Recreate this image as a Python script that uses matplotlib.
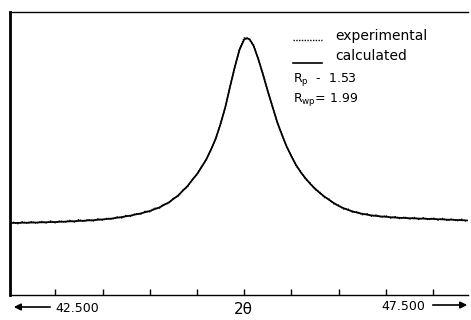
import numpy as np
import matplotlib
matplotlib.use("Agg")
import matplotlib.pyplot as plt

# step scan: start angle, step width (deg 2theta)
scan_start = 42.55
scan_step = 0.05
exp_counts = [
    72.8, 71.4, 73.1, 71.9, 73.3, 71.8, 73.6, 72.1, 73.9, 72.3,
    74.1, 72.7, 74.6, 73.0, 75.3, 73.6, 75.4, 74.0, 76.1, 74.9,
    76.7, 75.8, 78.0, 77.1, 79.5, 78.8, 81.4, 80.7, 83.6, 83.3,
    86.6, 86.8, 90.7, 91.8, 96.7, 98.9, 104.8, 108.3, 115.5, 120.4,
    128.8, 135.4, 146.2, 156.3, 171.8, 187.3, 208.9, 227.2, 245.8, 257.0,
    255.8, 249.8, 235.2, 220.9, 203.3, 188.8, 172.3, 160.8, 147.8, 139.3,
    129.3, 123.3, 115.8, 111.8, 105.6, 102.8, 97.6, 95.8, 91.1, 89.8,
    86.1, 85.9, 82.7, 83.1, 80.4, 81.2, 78.8, 79.9, 77.8, 79.1,
    77.0, 78.3, 76.4, 77.9, 76.0, 77.5, 75.6, 77.2, 75.3, 76.9,
    75.0, 76.5, 74.6, 76.1, 74.2, 75.7, 73.8,
]
exp_2theta = scan_start + scan_step * np.arange(len(exp_counts))

calc_2theta = [42.52, 42.8, 43.0, 43.2, 43.4, 43.5, 43.6, 43.7, 43.8, 43.9,
               44.0, 44.1, 44.2, 44.3, 44.4, 44.5, 44.55, 44.6, 44.65, 44.7,
               44.75, 44.8, 44.85, 44.9, 44.95, 45.0, 45.03, 45.06, 45.1, 45.15,
               45.2, 45.25, 45.3, 45.35, 45.4, 45.45, 45.5, 45.55, 45.6, 45.7,
               45.8, 45.9, 46.0, 46.1, 46.2, 46.3, 46.4, 46.6, 46.8, 47.0,
               47.2, 47.37]
calc_counts = [72, 72.5, 73, 73.8, 74.8, 75.6, 76.5, 77.9, 79.5, 81.5,
               84, 87.5, 92.5, 99.5, 109, 121, 128, 136, 145.5, 157,
               171, 188, 208, 228, 245, 255.5, 257, 255.5, 249, 236,
               220, 204, 188, 173, 160, 148.5, 138.5, 130, 122.5, 111,
               102, 95, 89, 85, 82.2, 80.3, 79, 77.4, 76.6, 76,
               75.2, 74.5]

tick_pos = [43.0, 43.5, 44.0, 44.5, 45.0, 45.5, 46.0, 46.5, 47.0]

fig = plt.figure(figsize=(4.71, 3.2), dpi=100)
ax = fig.add_axes([10 / 471, 25 / 320, 458 / 471, 283 / 320])

ax.plot(exp_2theta, exp_counts, color='black', lw=1.1, ls=(0, (1, 0.5)))
ax.plot(calc_2theta, calc_counts, color='black', lw=1.2)

ax.set_xlim(42.52, 47.37)
ax.set_ylim(0, 283)
ax.set_xticks(tick_pos)
ax.set_xticklabels([])
ax.set_yticks([])
ax.tick_params(axis='x', direction='in', length=4, width=1, color='black')
ax.spines['right'].set_visible(False)
ax.spines['left'].set_linewidth(2)
ax.spines['top'].set_linewidth(1)
ax.spines['bottom'].set_linewidth(1)

# legend block drawn as text
fs = 10
x_a = 43.0 + (293 - 55) / 94.5
x_b = 43.0 + (322 - 55) / 94.5
ax.plot([x_a, x_b], [255, 255], color='black', lw=1.0, ls=(0, (1, 1)))
ax.plot([x_a, x_b], [232, 232], color='black', lw=1.2)
fig.text(335 / 471, 1 - 36 / 320, 'experimental', fontsize=fs, va='center')
fig.text(335 / 471, 1 - 56 / 320, 'calculated', fontsize=fs, va='center')
fig.text(293 / 471, 1 - 80 / 320, r'R$_\mathregular{p}$  -  1.53', fontsize=fs - 1, va='center')
fig.text(293 / 471, 1 - 99 / 320, r'R$_\mathregular{wp}$= 1.99', fontsize=fs - 1, va='center')

# axis range labels with arrows
fig.text(55 / 471, 1 - 308 / 320, '42.500', fontsize=9, va='center')
fig.text(425 / 471, 1 - 306 / 320, '47.500', fontsize=9, va='center', ha='right')
fig.text(243 / 471, 1 - 310 / 320, '2θ', fontsize=11, va='center', ha='center')
ax.annotate('', xy=(11 / 471, 1 - 307 / 320), xytext=(53 / 471, 1 - 307 / 320),
            xycoords='figure fraction', textcoords='figure fraction',
            arrowprops=dict(arrowstyle='-|>', color='black', lw=1.2,
                            mutation_scale=10))
ax.annotate('', xy=(470 / 471, 1 - 305 / 320), xytext=(430 / 471, 1 - 305 / 320),
            xycoords='figure fraction', textcoords='figure fraction',
            arrowprops=dict(arrowstyle='-|>', color='black', lw=1.2,
                            mutation_scale=10))

fig.savefig('out.png', dpi=100)
